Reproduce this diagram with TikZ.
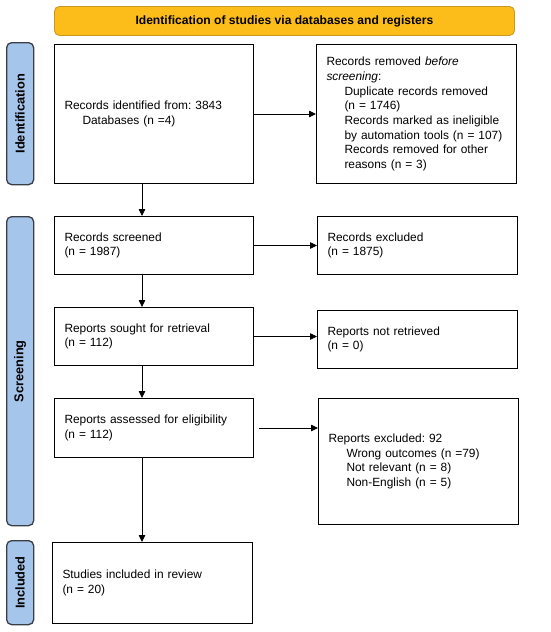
\documentclass[tikz,border=0pt]{standalone}
\usepackage{fontspec}
\setmainfont{Liberation Sans}
\usetikzlibrary{arrows.meta,calc}
\frenchspacing
\definecolor{bannerfill}{HTML}{FCBD1B}
\definecolor{bannerdraw}{HTML}{C9981F}
\definecolor{sidefill}{HTML}{A6C5EA}
\definecolor{sidedraw}{HTML}{3A3F47}
\tikzset{
  box/.style={draw=black, line width=1pt, fill=white, inner xsep=10pt, inner ysep=0pt,
    align=left, font=\fontsize{11.9}{14.7}\selectfont, anchor=north west},
  side/.style={draw=sidedraw, line width=1.3pt, fill=sidefill, rounded corners=5pt,
    anchor=north west, inner sep=0pt},
  sidelabel/.style={rotate=90, font=\fontsize{12.8}{14}\selectfont\bfseries},
  banner/.style={draw=bannerdraw, line width=0.9pt, fill=bannerfill, rounded corners=5pt,
    anchor=north west, inner sep=0pt, font=\fontsize{12.1}{14}\selectfont\bfseries},
  arr/.style={draw=black, line width=0.8pt, -{Triangle[length=7pt,width=6.5pt]}}
}
\newcommand{\ind}{\hspace*{18pt}}
\begin{document}
\begin{tikzpicture}[x=1pt,y=-1pt]
\useasboundingbox (0,0) rectangle (550,632);
% banner
\node[banner, minimum width=460pt, minimum height=29pt] (ban) at (54,6) {Identification of studies via databases and registers};
% side boxes
\node[side, minimum width=27pt, minimum height=142pt] (sid) at (6,42) {};
\node[sidelabel] at (sid.center) {Identification};
\node[side, minimum width=27pt, minimum height=309pt] (sscr) at (6,216) {};
\node[sidelabel] at (sscr.center) {Screening};
\node[side, minimum width=27pt, minimum height=84pt] (sinc) at (6,540) {};
\node[sidelabel] at (sinc.center) {Included};
% left column
\node[box, minimum width=199pt, minimum height=139pt, text width=179pt] (b1) at (54,44)
  {Records identified from: 3843\\\ind Databases (n =4)};
\node[box, minimum width=199pt, minimum height=58pt, text width=179pt] (b2) at (54,216)
  {Records screened\\(n = 1987)\\[-3pt]};
\node[box, minimum width=199pt, minimum height=58pt, text width=179pt] (b3) at (54,307)
  {Reports sought for retrieval\\(n = 112)\\[-3pt]};
\node[box, minimum width=199pt, minimum height=59pt, text width=179pt] (b4) at (54,398)
  {Reports assessed for eligibility\\(n = 112)\\[-3pt]};
\node[box, minimum width=200pt, minimum height=81pt, text width=180pt] (b5) at (52,542)
  {Studies included in review\\(n = 20)};
% right column
\node[box, minimum width=200pt, minimum height=139pt, text width=180pt] (r1) at (316,44)
  {Records removed \emph{before}\\\emph{screening}:\\\ind Duplicate records removed\\\ind (n = 1746)\\\ind Records marked as ineligible\\\ind by automation tools (n = 107)\\\ind Records removed for other\\\ind reasons (n = 3)};
\node[box, minimum width=200pt, minimum height=58pt, text width=180pt] (r2) at (317,216)
  {Records excluded\\(n = 1875)\\[-3pt]};
\node[box, minimum width=200pt, minimum height=58pt, text width=180pt] (r3) at (317,310)
  {Reports not retrieved\\(n = 0)\\[-3pt]};
\node[box, minimum width=200pt, minimum height=126pt, text width=180pt] (r4) at (318,398)
  {Reports excluded: 92\\\ind Wrong outcomes (n =79)\\\ind Not relevant (n = 8)\\\ind Non-English (n = 5)};
% connectors
\coordinate (ax) at (142,0);
\draw[arr] (b1.south -| ax) -- (b2.north -| ax);
\draw[arr] (b2.south -| ax) -- (b3.north -| ax);
\draw[arr] (b3.south -| ax) -- (b4.north -| ax);
\draw[arr] (b4.south -| ax) -- (b5.north -| ax);
\draw[arr] (b1.east) -- (b1.east -| r1.west);
\draw[arr] (b2.east) -- (b2.east -| r2.west);
\draw[arr] (b3.east) -- (b3.east -| r3.west);
\draw[arr] ([xshift=5pt]b4.east) -- (b4.east -| r4.west);
\end{tikzpicture}
\end{document}
